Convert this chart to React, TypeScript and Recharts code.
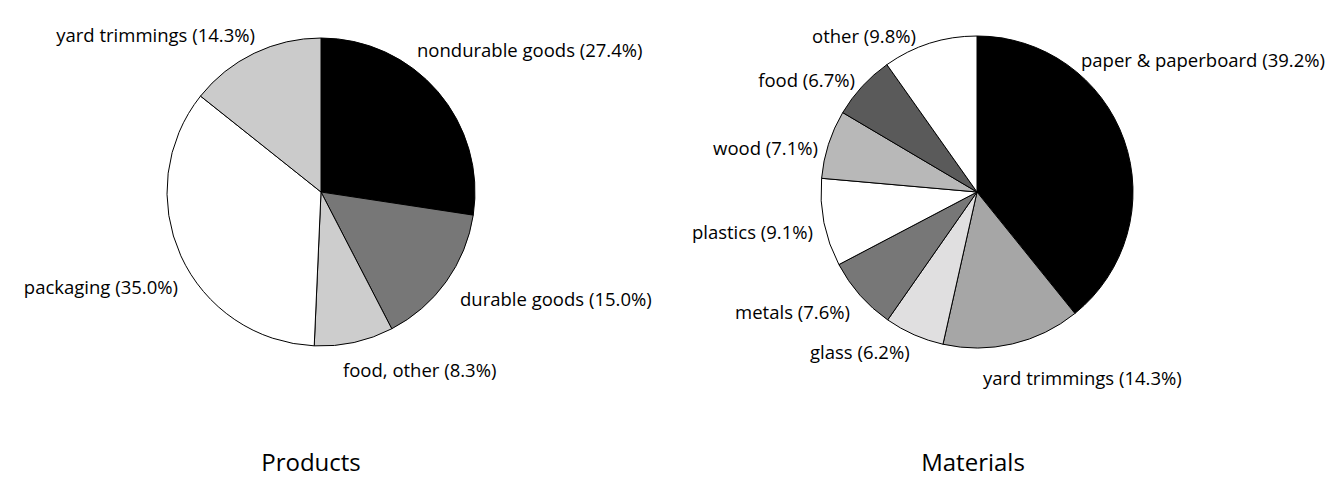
import React from "react";
import { PieChart, Pie, Cell } from "recharts";

const productCategories = ["nondurable goods", "durable goods", "food, other", "packaging", "yard trimmings"];
const productValues = [27.4, 15.0, 8.3, 35.0, 14.3];
const productColors = ["#000000", "#777777", "#cdcdcd", "#ffffff", "#cbcbcb"];

const materialCategories = ["paper & paperboard", "yard trimmings", "glass", "metals", "plastics", "wood", "food", "other"];
const materialValues = [39.2, 14.3, 6.2, 7.6, 9.1, 7.1, 6.7, 9.8];
const materialColors = ["#000000", "#a6a6a6", "#e0dfe0", "#777777", "#ffffff", "#b8b8b8", "#5a5a5a", "#ffffff"];

const chartTitles = ["Products", "Materials"];

// label placement relative to pie centre: [dx, dy, anchor]
const productLabelLayout: [number, number, string][] = [
  [96, -140, "start"],
  [139, 109, "start"],
  [22, 180, "start"],
  [-143, 97, "end"],
  [-66, -155, "end"],
];
const materialLabelLayout: [number, number, string][] = [
  [104, -130, "start"],
  [6, 188, "start"],
  [-167, 162, "start"],
  [-127, 122, "end"],
  [-164, 42, "end"],
  [-159, -42, "end"],
  [-122, -110, "end"],
  [-165, -154, "start"],
];

const FONT = "'Open Sans', 'Noto Sans', sans-serif";
const LABEL_SIZE = 18.5;

const productData = productCategories.map((name, i) => ({ name, value: productValues[i] }));
const materialData = materialCategories.map((name, i) => ({ name, value: materialValues[i] }));

const makeLabel = (layout: [number, number, string][]) => (props: any) => {
  const { cx, cy, index, name, value } = props;
  const [dx, dy, anchor] = layout[index];
  return (
    <text
      key={`l-${index}`}
      x={cx + dx}
      y={cy + dy + 5}
      textAnchor={anchor}
      fill="#000"
      fontFamily={FONT}
      fontSize={LABEL_SIZE}
    >
      {`${name} (${Number(value).toFixed(1)}%)`}
    </text>
  );
};

export default function App() {
  return (
    <div style={{ position: "absolute", left: 0, top: 0, width: 1328, height: 477, background: "#fff" }}>
      <PieChart width={1328} height={477}>
        <Pie
          data={productData}
          dataKey="value"
          nameKey="name"
          cx={316}
          cy={187}
          outerRadius={154}
          startAngle={90}
          endAngle={-270}
          stroke="#000"
          strokeWidth={1}
          label={makeLabel(productLabelLayout)}
          labelLine={false}
          isAnimationActive={false}
        >
          {productData.map((d, i) => (
            <Cell key={d.name} fill={productColors[i]} />
          ))}
        </Pie>
        <Pie
          data={materialData}
          dataKey="value"
          nameKey="name"
          cx={972}
          cy={187}
          outerRadius={156}
          startAngle={90}
          endAngle={-270}
          stroke="#000"
          strokeWidth={1}
          label={makeLabel(materialLabelLayout)}
          labelLine={false}
          isAnimationActive={false}
        >
          {materialData.map((d, i) => (
            <Cell key={d.name} fill={materialColors[i]} />
          ))}
        </Pie>
      </PieChart>
      <svg width={1328} height={477} style={{ position: "absolute", left: 0, top: 0, pointerEvents: "none" }}>
        <text x={311} y={471} textAnchor="middle" fontFamily={FONT} fontSize={24} fill="#000">
          {chartTitles[0]}
        </text>
        <text x={973} y={471} textAnchor="middle" fontFamily={FONT} fontSize={24} fill="#000">
          {chartTitles[1]}
        </text>
      </svg>
    </div>
  );
}
